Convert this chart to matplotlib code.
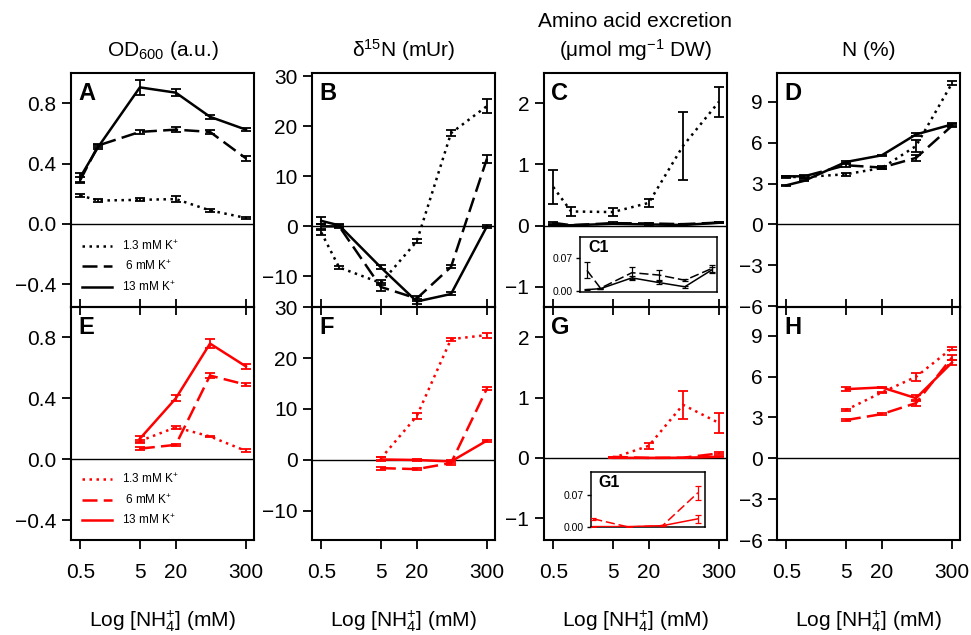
import matplotlib
matplotlib.use("Agg")
import matplotlib.pyplot as plt
from matplotlib.ticker import NullLocator

plt.rcParams['font.family'] = ['Liberation Sans', 'DejaVu Sans']
plt.rcParams['mathtext.fontset'] = 'custom'
plt.rcParams['mathtext.rm'] = 'Liberation Sans'
plt.rcParams['mathtext.it'] = 'Liberation Sans:italic'
plt.rcParams['mathtext.bf'] = 'Liberation Sans:bold'

# NH4+ concentrations (mM)
nh4_top = [0.5, 1, 5, 20, 75, 300]
nh4_bot = [5, 20, 75, 300]
k_labels = ["1.3 mM K$^{+}$", " 6 mM K$^{+}$", "13 mM K$^{+}$"]

# OD600 (A / E)
od_top_low = [0.19, 0.155, 0.16, 0.165, 0.09, 0.04]
od_top_low_err = [0.01, 0.01, 0.01, 0.02, 0.01, 0.005]
od_top_mid = [0.29, 0.52, 0.61, 0.625, 0.61, 0.435]
od_top_mid_err = [0.02, 0.01, 0.015, 0.015, 0.015, 0.015]
od_top_high = [0.31, 0.51, 0.905, 0.87, 0.71, 0.625]
od_top_high_err = [0.03, 0.01, 0.05, 0.025, 0.015, 0.01]
od_bot_low = [0.12, 0.21, 0.15, 0.055]
od_bot_low_err = [0.01, 0.01, 0.005, 0.01]
od_bot_mid = [0.07, 0.095, 0.55, 0.49]
od_bot_mid_err = [0.01, 0.005, 0.015, 0.01]
od_bot_high = [0.135, 0.40, 0.76, 0.61]
od_bot_high_err = [0.02, 0.02, 0.03, 0.015]

# delta 15N (B / F)
dn_top_low = [-1.2, -8.2, -11.3, -3.0, 18.6, 24.0]
dn_top_low_err = [0.5, 0.3, 0.5, 0.4, 0.6, 1.4]
dn_top_mid = [0.0, 0.0, -12.1, -14.4, -8.1, 13.5]
dn_top_mid_err = [0.5, 0.3, 0.8, 0.5, 0.3, 0.8]
dn_top_high = [1.1, 0.2, -8.2, -15.0, -13.5, 0.0]
dn_top_high_err = [0.7, 0.3, 0.4, 0.5, 0.3, 0.3]
dn_bot_low = [0.3, 8.6, 23.7, 24.5]
dn_bot_low_err = [0.3, 0.6, 0.3, 0.5]
dn_bot_mid = [-1.6, -1.8, -0.6, 14.0]
dn_bot_mid_err = [0.3, 0.2, 0.3, 0.3]
dn_bot_high = [0.1, 0.0, -0.3, 3.8]
dn_bot_high_err = [0.4, 0.2, 0.3, 0.2]

# amino acid excretion (C / G, insets C1 / G1)
aa_top_low = [0.63, 0.23, 0.22, 0.37, 1.3, 2.02]
aa_top_low_err = [0.27, 0.07, 0.06, 0.07, 0.55, 0.25]
aa_top_mid = [0.044, 0.006, 0.039, 0.034, 0.023, 0.048]
aa_top_mid_err = [0.017, 0.001, 0.013, 0.01, 0.002, 0.008]
aa_top_high = [0.003, 0.005, 0.028, 0.018, 0.009, 0.045]
aa_top_high_err = [0.001, 0.001, 0.005, 0.004, 0.002, 0.006]
aa_bot_low = [0.0, 0.2, 0.88, 0.58]
aa_bot_low_err = [0.0, 0.05, 0.23, 0.17]
aa_bot_mid = [0.018, 0.0, 0.003, 0.075]
aa_bot_mid_err = [0.002, 0.0, 0.001, 0.015]
aa_bot_high = [0.001, 0.001, 0.003, 0.018]
aa_bot_high_err = [0.0, 0.0, 0.001, 0.009]

# N content (D / H)
n_top_low = [3.48, 3.48, 3.68, 4.14, 5.75, 10.34]
n_top_low_err = [0.05, 0.05, 0.1, 0.1, 0.45, 0.15]
n_top_mid = [3.53, 3.53, 4.34, 4.17, 4.88, 7.23]
n_top_mid_err = [0.05, 0.1, 0.1, 0.1, 0.2, 0.1]
n_top_high = [2.87, 3.2, 4.58, 5.07, 6.6, 7.33]
n_top_high_err = [0.05, 0.05, 0.1, 0.05, 0.1, 0.1]
n_bot_low = [3.54, 4.83, 5.98, 8.07]
n_bot_low_err = [0.1, 0.05, 0.3, 0.1]
n_bot_mid = [2.80, 3.24, 4.05, 7.39]
n_bot_mid_err = [0.05, 0.05, 0.2, 0.2]
n_bot_high = [5.07, 5.2, 4.41, 7.02]
n_bot_high_err = [0.15, 0.05, 0.2, 0.2]

styles = [(0, (1, 1.8)), (0, (6, 2.5)), '-']

fig = plt.figure(figsize=(9.71, 6.35), dpi=100)

col_left = [0.0731, 0.3213, 0.5602, 0.8002]
col_w = 0.1885
row_bottom = [0.5165, 0.1496]
row_h = [0.3685, 0.3669]


def draw(ax, x, series, color, lw=1.8, cap=3.5, ew=1.3, ls_list=styles):
    handles = []
    for (y, e), ls in zip(series, ls_list):
        ax.errorbar(x, y, yerr=e, fmt='none', ecolor=color, elinewidth=ew,
                    capsize=cap, capthick=ew, zorder=3)
        h, = ax.plot(x, y, color=color, linestyle=ls, linewidth=lw, zorder=4)
        handles.append(h)
    return handles


def style_main(ax, ylim, yticks, fmt, letter, top_row):
    ax.set_xscale('log')
    ax.set_xlim(0.35, 410)
    ax.set_ylim(*ylim)
    ax.set_yticks(yticks)
    ax.set_yticklabels([fmt.format(t).replace('-', '\u2212') for t in yticks])
    ax.xaxis.set_minor_locator(NullLocator())
    ax.set_xticks([0.5, 5, 20, 300])
    ax.axhline(0, color='black', linewidth=1.0, zorder=2)
    for s in ax.spines.values():
        s.set_linewidth(1.5)
    ax.tick_params(axis='y', direction='out', length=6.5, width=1.3,
                   labelsize=15, pad=4)
    if top_row:
        ax.tick_params(axis='x', direction='inout', length=12, width=1.3,
                       labelbottom=False)
    else:
        ax.set_xticklabels(['0.5', '5', '20', '300'])
        ax.tick_params(axis='x', direction='out', length=6.5, width=1.3,
                       labelsize=15, pad=10)
        ax.set_xlabel("Log [NH$_4^{+}$] (mM)", fontsize=15, labelpad=19)
    ax.text(0.04, 0.96, letter, transform=ax.transAxes, fontsize=17,
            fontweight='bold', va='top', ha='left')


def style_inset(ax, xlim, ylim, label):
    ax.set_xscale('log')
    ax.set_xlim(*xlim)
    ax.set_ylim(*ylim)
    ax.xaxis.set_major_locator(NullLocator())
    ax.xaxis.set_minor_locator(NullLocator())
    ax.set_yticks([0.0, 0.07])
    ax.set_yticklabels(['0.00', '0.07'])
    ax.tick_params(axis='y', direction='out', length=3, width=1, labelsize=7.5, pad=2)
    for s in ax.spines.values():
        s.set_linewidth(1.1)
    ax.text(0.06, 0.95, label, transform=ax.transAxes, fontsize=11.5,
            fontweight='bold', va='top', ha='left')


titles = ["OD$_{600}$ (a.u.)", "\u03b4$^{15}$N (mUr)",
          "Amino acid excretion\n(\u03bcmol mg$^{-1}$ DW)", "N (%)"]

top_data = [
    [(od_top_low, od_top_low_err), (od_top_mid, od_top_mid_err), (od_top_high, od_top_high_err)],
    [(dn_top_low, dn_top_low_err), (dn_top_mid, dn_top_mid_err), (dn_top_high, dn_top_high_err)],
    [(aa_top_low, aa_top_low_err), (aa_top_mid, aa_top_mid_err), (aa_top_high, aa_top_high_err)],
    [(n_top_low, n_top_low_err), (n_top_mid, n_top_mid_err), (n_top_high, n_top_high_err)],
]
bot_data = [
    [(od_bot_low, od_bot_low_err), (od_bot_mid, od_bot_mid_err), (od_bot_high, od_bot_high_err)],
    [(dn_bot_low, dn_bot_low_err), (dn_bot_mid, dn_bot_mid_err), (dn_bot_high, dn_bot_high_err)],
    [(aa_bot_low, aa_bot_low_err), (aa_bot_mid, aa_bot_mid_err), (aa_bot_high, aa_bot_high_err)],
    [(n_bot_low, n_bot_low_err), (n_bot_mid, n_bot_mid_err), (n_bot_high, n_bot_high_err)],
]

ylims_top = [(-0.55, 1.0), (-16.1, 30.6), (-1.33, 2.49), (-6.05, 11.1)]
ylims_bot = [(-0.53, 1.0), (-15.7, 30.0), (-1.36, 2.5), (-6.0, 11.1)]
yticks_all = [[-0.4, 0.0, 0.4, 0.8], [-10, 0, 10, 20, 30], [-1, 0, 1, 2], [-6, -3, 0, 3, 6, 9]]
fmts = ["{:.1f}", "{:d}", "{:d}", "{:d}"]
letters_top = ['A', 'B', 'C', 'D']
letters_bot = ['E', 'F', 'G', 'H']

for i in range(4):
    # bottom row first so the top row's ticks sit above it
    ax = fig.add_axes([col_left[i], row_bottom[1], col_w, row_h[1]])
    hs = draw(ax, nh4_bot, bot_data[i], 'red')
    style_main(ax, ylims_bot[i], yticks_all[i], fmts[i], letters_bot[i], False)
    if i == 0:
        ax.legend(hs, k_labels, loc='upper left', bbox_to_anchor=(0.0, 0.335),
                  frameon=False, fontsize=8.5, handlelength=2.6,
                  labelspacing=0.55)

    ax = fig.add_axes([col_left[i], row_bottom[0], col_w, row_h[0]])
    ax.patch.set_alpha(0)
    hs = draw(ax, nh4_top, top_data[i], 'black')
    style_main(ax, ylims_top[i], yticks_all[i], fmts[i], letters_top[i], True)
    ax.set_title(titles[i], fontsize=15, pad=12, linespacing=1.3)
    if i == 0:
        ax.legend(hs, k_labels, loc='upper left', bbox_to_anchor=(0.0, 0.335),
                  frameon=False, fontsize=8.5, handlelength=2.6,
                  labelspacing=0.55)

# inset C1
axc1 = fig.add_axes([0.5973, 0.5402, 0.1411, 0.0866])
draw(axc1, nh4_top, [(aa_top_mid, aa_top_mid_err), (aa_top_high, aa_top_high_err)],
     'black', lw=1.1, cap=2.5, ew=0.9, ls_list=styles[1:])
style_inset(axc1, (0.35, 390), (-0.002, 0.115), 'C1')

# inset G1
axg1 = fig.add_axes([0.6087, 0.170, 0.1174, 0.0866])
draw(axg1, nh4_bot, [(aa_bot_mid, aa_bot_mid_err), (aa_bot_high, aa_bot_high_err)],
     'red', lw=1.1, cap=2.5, ew=0.9, ls_list=styles[1:])
style_inset(axg1, (4.6, 395), (0.0, 0.12), 'G1')

fig.savefig('out.png', dpi=100)
